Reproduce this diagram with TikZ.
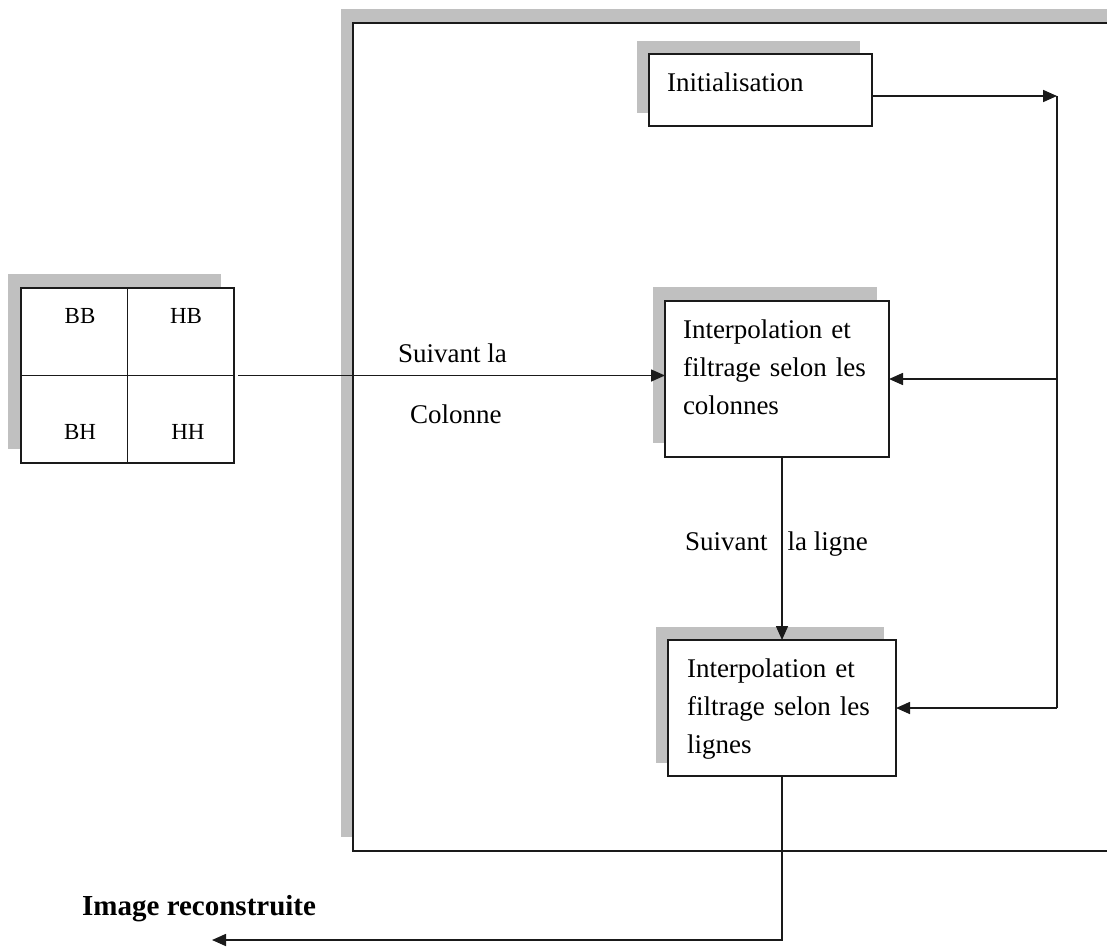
\documentclass[tikz,border=0pt]{standalone}
\usepackage{fontspec}
\setmainfont{Liberation Serif}
\usetikzlibrary{arrows.meta,shadows}

\definecolor{shadegray}{HTML}{C0C0C0}
\definecolor{inkline}{HTML}{1A1A1A}

\tikzset{
  base/.style={draw=inkline, line width=1.8pt, fill=white, outer sep=0pt},
  shade/.style 2 args={general shadow={fill=shadegray, shadow xshift=#1, shadow yshift=#2}},
  proc/.style={base, anchor=north west, inner xsep=18pt, inner ysep=0pt,
    align=left, font=\fontsize{27}{38}\selectfont},
  lbl/.style={inner sep=0pt, anchor=base west, font=\fontsize{27}{38}\selectfont},
  cell/.style={inner sep=0pt, font=\fontsize{23}{28}\selectfont},
  link/.style={draw=inkline, line width=1.6pt},
  arr/.style={link, -{Triangle[length=14pt,width=12pt]}}
}

\begin{document}
\begin{tikzpicture}[x=1pt, y=-1pt]
  \useasboundingbox (0,0) rectangle (1107,947);
  \clip (0,0) rectangle (1107,947);

  % outer processing frame (runs off to the right)
  \node[base, shade={-12pt}{14pt}, minimum width=767pt, minimum height=828pt,
        inner sep=0pt, anchor=north west] (frame) at (353,23) {};

  % sub-band grid
  \node[base, shade={-13pt}{14pt}, minimum width=213pt, minimum height=175pt,
        inner sep=0pt, anchor=north west] (grid) at (21,288) {};
  \draw[link] (grid.north) -- (grid.south);
  \draw[link] (grid.west) -- (grid.east);
  \node[cell] (bb) at (80,316) {BB};
  \node[cell] (hb) at (186,316) {HB};
  \node[cell] (bh) at (80,432) {BH};
  \node[cell] (hh) at (188,432) {HH};

  % processing steps
  \node[proc, shade={-12pt}{13pt}, text width=187pt, text height=38pt, text depth=34pt]
    (init) at (649,54) {Initialisation};
  \node[proc, shade={-12pt}{14pt}, text width=188pt, text height=37pt, text depth=119pt]
    (colbox) at (665,301) {Interpolation et\\filtrage selon les\\colonnes};
  \node[proc, shade={-12pt}{13pt}, inner xsep=19pt, text width=190pt, text height=37pt, text depth=99pt]
    (linebox) at (668,640) {Interpolation et\\filtrage selon les\\lignes};

  % labels
  \node[lbl] (sc1) at (398,362) {Suivant la};
  \node[lbl] (sc2) at (410,423) {Colonne};
  \node[lbl] (sl) at (685,550) {Suivant\hspace{20pt}la ligne};
  \node[lbl, font=\fontsize{29}{34}\selectfont\bfseries] (out) at (82,915) {Image reconstruite};

  % connectors
  \coordinate (tr) at (1057,96);
  \coordinate (br) at (tr |- linebox.east);
  \coordinate (exit) at (212,940);

  \draw[arr, shorten <=4pt] (grid.east) -- (grid.east -| colbox.west);
  \draw[arr] (init.east |- tr) -- (tr);
  \draw[link] (tr) -- (br);
  \draw[arr] (tr |- colbox.east) -- (colbox.east);
  \draw[arr] (br) -- (linebox.east);
  \draw[arr] (colbox.south -| linebox.north) -- (linebox.north);
  \draw[arr] (linebox.south) |- (exit);
\end{tikzpicture}
\end{document}
